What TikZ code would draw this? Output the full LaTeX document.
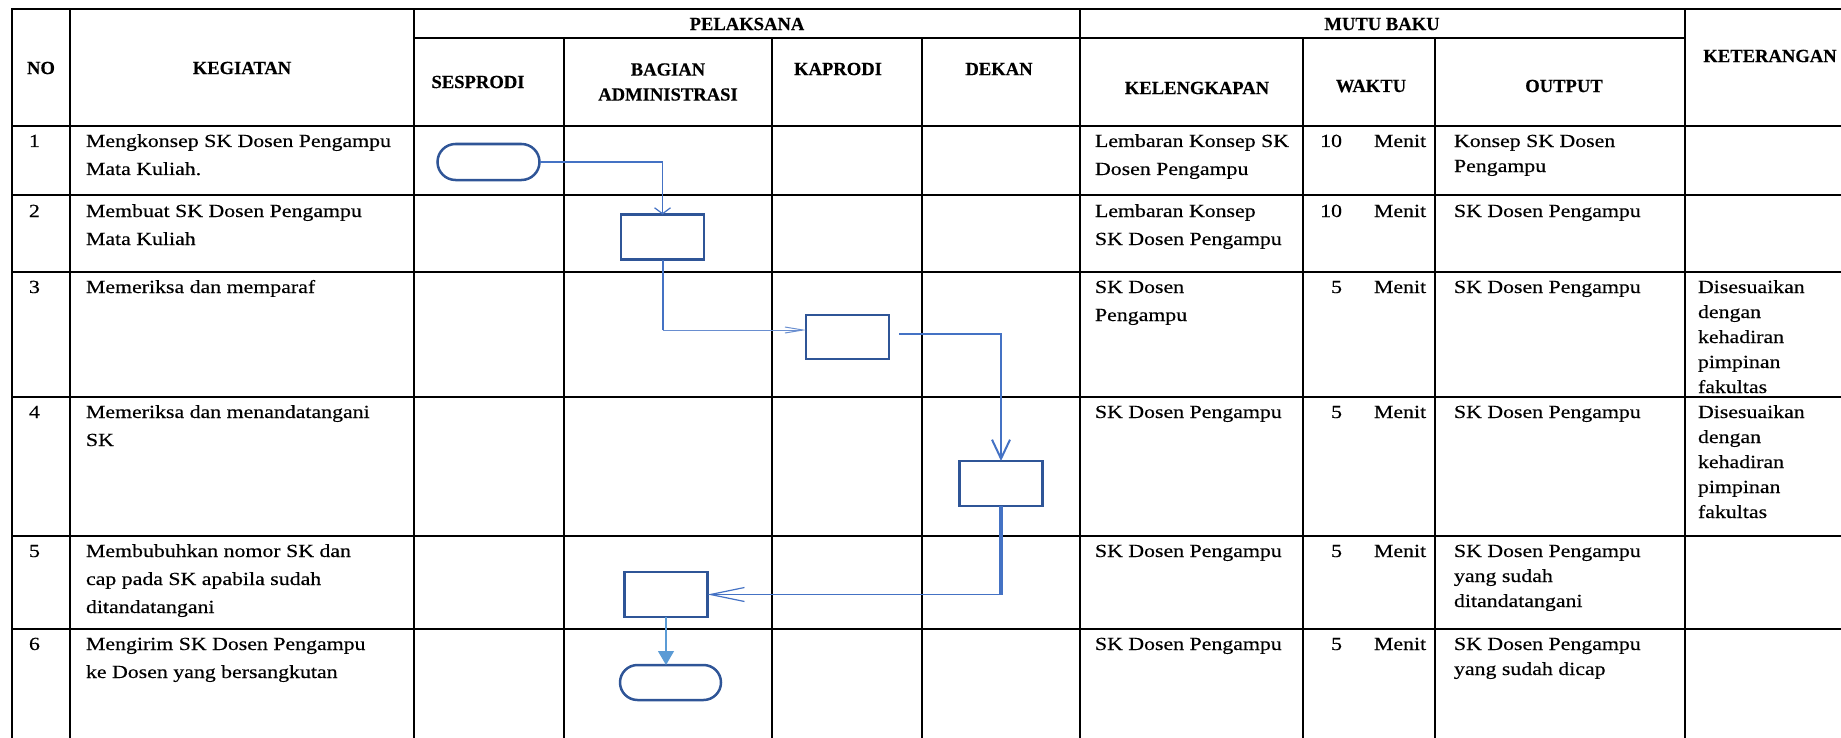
\documentclass[tikz,border=0pt]{standalone}
\usepackage{fontspec}
\newfontfamily\bodyfont{Liberation Serif}[FakeStretch=1.18,FakeBold=0.4]
\newfontfamily\headfont{Liberation Serif}[BoldFeatures={FakeBold=0.3}]
\usetikzlibrary{arrows.meta,calc}
\definecolor{boxblue}{HTML}{2F5597}
\definecolor{lineblue}{HTML}{4472C4}
\definecolor{lightblue}{HTML}{5B9BD5}
\begin{document}
\begin{tikzpicture}[x=0.5pt,y=-0.5pt,
  grid/.style={line width=1.1pt, black, line cap=rect},
  hd/.style={font={\headfont\bfseries\fontsize{9.3}{12.5}\selectfont}, inner sep=0, outer sep=0, align=center},
  body/.style={font={\bodyfont\fontsize{9.25}{14}\selectfont}, inner sep=0, outer sep=0, anchor=north west, align=left, yshift=9.8pt},
  nar/.style={font={\bodyfont\fontsize{9.25}{12.5}\selectfont}, inner sep=0, outer sep=0, anchor=north west, align=left, yshift=8.75pt},
  procbox/.style={draw=boxblue, line width=1.25pt, inner sep=0, outer sep=0, minimum width=41.5pt, minimum height=22.5pt},
  termbox/.style={draw=boxblue, line width=1.25pt, inner sep=0, outer sep=0, minimum width=51pt, minimum height=18pt, rounded corners=9pt},
  flow/.style={lineblue, line width=0.6pt},
]
\useasboundingbox (0,0) rectangle (1841,738);

% ---------- table grid ----------
\draw[grid] (12,9) -- (1841,9);
\draw[grid] (414,38) -- (1685,38);
\foreach \yy in {126,195,272,397,536,629} \draw[grid] (12,\yy) -- (1841,\yy);
\foreach \xx in {12,70,414,1080,1685} \draw[grid] (\xx,9) -- (\xx,738);
\foreach \xx in {564,772,922,1303,1435} \draw[grid] (\xx,38) -- (\xx,738);

% ---------- header ----------
\node[hd] (hpel) at (747,24) {PELAKSANA};
\node[hd] (hmutu) at (1382,24) {MUTU BAKU};
\node[hd] (hno) at (41,68) {NO};
\node[hd] (hkeg) at (242,68) {KEGIATAN};
\node[hd] (hses) at (478,82) {SESPRODI};
\node[hd] (hbag) at (668,82) {BAGIAN\\ADMINISTRASI};
\node[hd] (hkap) at (838,69) {KAPRODI};
\node[hd] (hdek) at (999,69) {DEKAN};
\node[hd] (hkel) at (1197,88) {KELENGKAPAN};
\node[hd] (hwak) at (1371,86) {WAKTU};
\node[hd] (hout) at (1564,86) {OUTPUT};
\node[hd] (hket) at (1770,56) {KETERANGAN};

% ---------- row 1 ----------
\node[body] (n1) at (29,147) {\strut 1};
\node[body] (k1) at (86,147) {\strut Mengkonsep SK Dosen Pengampu\\Mata Kuliah.};
\node[body] (l1) at (1095,147) {\strut Lembaran Konsep SK\\Dosen Pengampu};
\node[body,anchor=north east] (w1) at (1342,147) {\strut 10};
\node[body] (m1) at (1374,147) {\strut Menit};
\node[nar] (o1) at (1454,147) {\strut Konsep SK Dosen\\Pengampu};

% ---------- row 2 ----------
\node[body] (n2) at (29,217) {\strut 2};
\node[body] (k2) at (86,217) {\strut Membuat SK Dosen Pengampu\\Mata Kuliah};
\node[body] (l2) at (1095,217) {\strut Lembaran Konsep\\SK Dosen Pengampu};
\node[body,anchor=north east] (w2) at (1342,217) {\strut 10};
\node[body] (m2) at (1374,217) {\strut Menit};
\node[nar] (o2) at (1454,217) {\strut SK Dosen Pengampu};

% ---------- row 3 ----------
\node[body] (n3) at (29,293) {\strut 3};
\node[body] (k3) at (86,293) {\strut Memeriksa dan memparaf};
\node[body] (l3) at (1095,293) {\strut SK Dosen\\Pengampu};
\node[body,anchor=north east] (w3) at (1342,293) {\strut 5};
\node[body] (m3) at (1374,293) {\strut Menit};
\node[nar] (o3) at (1454,293) {\strut SK Dosen Pengampu};
\node[nar] (e3) at (1698,293) {\strut Disesuaikan\\dengan\\kehadiran\\pimpinan\\fakultas};

% ---------- row 4 ----------
\node[body] (n4) at (29,418) {\strut 4};
\node[body] (k4) at (86,418) {\strut Memeriksa dan menandatangani\\SK};
\node[body] (l4) at (1095,418) {\strut SK Dosen Pengampu};
\node[body,anchor=north east] (w4) at (1342,418) {\strut 5};
\node[body] (m4) at (1374,418) {\strut Menit};
\node[nar] (o4) at (1454,418) {\strut SK Dosen Pengampu};
\node[nar] (e4) at (1698,418) {\strut Disesuaikan\\dengan\\kehadiran\\pimpinan\\fakultas};

% ---------- row 5 ----------
\node[body] (n5) at (29,557) {\strut 5};
\node[body] (k5) at (86,557) {\strut Membubuhkan nomor SK dan\\cap pada SK apabila sudah\\ditandatangani};
\node[body] (l5) at (1095,557) {\strut SK Dosen Pengampu};
\node[body,anchor=north east] (w5) at (1342,557) {\strut 5};
\node[body] (m5) at (1374,557) {\strut Menit};
\node[nar] (o5) at (1454,557) {\strut SK Dosen Pengampu\\yang sudah\\ditandatangani};

% ---------- row 6 ----------
\node[body] (n6) at (29,650) {\strut 6};
\node[body] (k6) at (86,650) {\strut Mengirim SK Dosen Pengampu\\ke Dosen yang bersangkutan};
\node[body] (l6) at (1095,650) {\strut SK Dosen Pengampu};
\node[body,anchor=north east] (w6) at (1342,650) {\strut 5};
\node[body] (m6) at (1374,650) {\strut Menit};
\node[nar] (o6) at (1454,650) {\strut SK Dosen Pengampu\\yang sudah dicap};

% ---------- flowchart shapes ----------
\node[termbox] (t1) at (488.5,162) {};
\node[procbox] (b2) at (662.5,237) {};
\node[procbox, minimum height=22pt] (b3) at (847.5,337) {};
\node[procbox] (b4) at (1001,483.5) {};
\node[procbox] (b5) at (666,594.5) {};
\node[termbox, minimum width=50.5pt, minimum height=17.5pt, rounded corners=8.75pt] (t2) at (670.5,682.5) {};

% ---------- connectors ----------
\draw[flow, -{Straight Barb[length=3pt,width=8pt]}] (t1.east) -| (b2.north);

\coordinate (c2) at ($(b3.west)+(0,-7)$);
\coordinate (k2c) at (b2.south |- c2);
\draw[lineblue, line width=1pt] (b2.south) -- (k2c);
\draw[lineblue!80, line width=0.5pt, -{Straight Barb[length=9pt,width=3pt]}] (k2c) -- (c2);

\coordinate (s3) at ($(b3.east)+(10,-3)$);
\draw[lineblue, line width=1pt, -{Straight Barb[length=9.5pt,width=9pt]}] (s3) -| (b4.north);

\coordinate (k4c) at (b4.south |- b5.east);
\draw[lineblue, line width=2.2pt] (b4.south) -- (k4c);
\draw[flow, -{Straight Barb[length=17pt,width=7pt]}] (k4c) -- (b5.east);

\draw[lightblue, line width=0.6pt, -{Triangle[length=7pt,width=8pt]}] (b5.south) -- (b5.south |- t2.north);
\end{tikzpicture}
\end{document}
